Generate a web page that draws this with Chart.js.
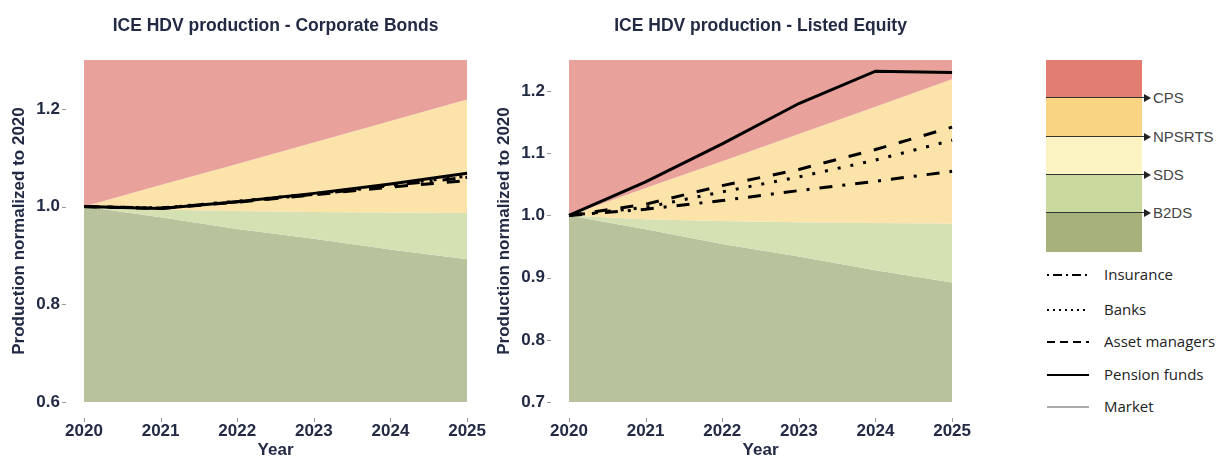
<!DOCTYPE html>
<html>
<head>
<meta charset="utf-8">
<script src="https://cdn.jsdelivr.net/npm/chart.js@4"></script>
<style>
  body { margin: 0; background: #fff; width: 1218px; height: 459px; overflow: hidden; position: relative; font-family: "Liberation Sans", Arial, sans-serif; }
  canvas { position: absolute; top: 0; }
  #cb { left: 0; }
  #le { left: 485px; }
  .band { position: absolute; left: 1046px; width: 96px; }
  .sline { position: absolute; left: 1046px; width: 100px; height: 0; border-top: 1.5px solid #333; }
  .arrow { position: absolute; left: 1144px; width: 0; height: 0; border-top: 4px solid transparent; border-bottom: 4px solid transparent; border-left: 7px solid #222; }
  .slab { position: absolute; left: 1153px; font-size: 15px; color: #444; line-height: 16px; }
  .llab { position: absolute; left: 1104px; font-family: "Open Sans", sans-serif; font-size: 15px; color: #222; line-height: 18px; }
  svg { position: absolute; left: 1044px; top: 260px; }
</style>
</head>
<body>
<canvas id="cb" width="505" height="459"></canvas>
<canvas id="le" width="505" height="459"></canvas>

<div class="band" style="top:60px;height:38px;background:#e27e71"></div>
<div class="band" style="top:98px;height:39px;background:#f9d583"></div>
<div class="band" style="top:137px;height:38px;background:#fbf4c2"></div>
<div class="band" style="top:175px;height:38px;background:#c9d89c"></div>
<div class="band" style="top:213px;height:39px;background:#a6b17c"></div>
<div class="sline" style="top:97px"></div><div class="arrow" style="top:94px"></div><div class="slab" style="top:90px">CPS</div>
<div class="sline" style="top:136px"></div><div class="arrow" style="top:133px"></div><div class="slab" style="top:129px">NPSRTS</div>
<div class="sline" style="top:174px"></div><div class="arrow" style="top:171px"></div><div class="slab" style="top:167px">SDS</div>
<div class="sline" style="top:212px"></div><div class="arrow" style="top:209px"></div><div class="slab" style="top:205px">B2DS</div>

<svg width="50" height="160">
  <line x1="3" y1="15" x2="45" y2="15" stroke="#000" stroke-width="2" stroke-dasharray="2,4,9,4"/>
  <line x1="3" y1="50" x2="45" y2="50" stroke="#000" stroke-width="2" stroke-dasharray="2,4"/>
  <line x1="3" y1="82" x2="45" y2="82" stroke="#000" stroke-width="2" stroke-dasharray="8,5"/>
  <line x1="3" y1="115" x2="45" y2="115" stroke="#000" stroke-width="2"/>
  <line x1="3" y1="147" x2="45" y2="147" stroke="#aaa" stroke-width="2"/>
</svg>
<div class="llab" style="top:265px">Insurance</div>
<div class="llab" style="top:300px">Banks</div>
<div class="llab" style="top:332px">Asset managers</div>
<div class="llab" style="top:365px">Pension funds</div>
<div class="llab" style="top:397px">Market</div>

<script>
const years = ['2020', '2021', '2022', '2023', '2024', '2025'];

// scenario boundaries
const cps  = [1.000, 1.044, 1.087, 1.131, 1.175, 1.219];
const sds  = [1.000, 0.994, 0.991, 0.989, 0.988, 0.987];
const b2ds = [1.000, 0.978, 0.954, 0.934, 0.912, 0.892];

// Corporate Bonds
const insuranceCB = [1.000, 0.997, 1.010, 1.025, 1.043, 1.060];
const banksCB     = [1.000, 0.997, 1.011, 1.026, 1.045, 1.062];
const assetCB     = [1.000, 0.996, 1.009, 1.024, 1.040, 1.053];
const pensionCB   = [1.000, 0.996, 1.010, 1.027, 1.046, 1.068];
const yTicksCB = [0.6, 0.8, 1.0, 1.2];

// Listed Equity
const insuranceLE = [1.000, 1.010, 1.024, 1.040, 1.055, 1.071];
const banksLE     = [1.000, 1.013, 1.038, 1.062, 1.089, 1.121];
const assetLE     = [1.000, 1.018, 1.048, 1.074, 1.106, 1.142];
const pensionLE   = [1.000, 1.054, 1.115, 1.180, 1.232, 1.230];
const yTicksLE = [0.7, 0.8, 0.9, 1.0, 1.1, 1.2];

const navy = '#222a44';

const tickMarks = {
  id: 'tickMarks',
  afterDraw(chart) {
    const { ctx, chartArea } = chart;
    const x = chart.scales.x, y = chart.scales.y;
    ctx.save();
    ctx.strokeStyle = '#999';
    ctx.lineWidth = 1;
    ctx.beginPath();
    y.ticks.forEach((t, i) => {
      const py = Math.round(y.getPixelForTick(i)) + 0.5;
      ctx.moveTo(chartArea.left - 22, py);
      ctx.lineTo(chartArea.left - 18, py);
    });
    x.ticks.forEach((t, i) => {
      const px = Math.round(x.getPixelForTick(i)) + 0.5;
      ctx.moveTo(px, chartArea.bottom + 16);
      ctx.lineTo(px, chartArea.bottom + 20);
    });
    ctx.stroke();
    ctx.restore();
  }
};

function band(data, fill, color) {
  return { data, fill, backgroundColor: color, borderWidth: 0, pointRadius: 0, order: 2 };
}
function series(label, data, dash) {
  return { label, data, fill: false, borderColor: '#000', borderWidth: 3, borderDash: dash, pointRadius: 0, tension: 0, order: 1 };
}

function makeChart(id, title, yMin, yMax, yTicks, ins, bnk, ast, pen) {
  new Chart(document.getElementById(id), {
    type: 'line',
    data: {
      labels: years,
      datasets: [
        band(cps, 'end', 'rgb(233,161,156)'),
        band(sds, 0, 'rgb(251,227,170)'),
        band(b2ds, 1, 'rgb(214,225,179)'),
        band(b2ds, 'start', 'rgb(184,195,158)'),
        series('Insurance', ins, [13, 10, 3, 10]),
        series('Banks', bnk, [3, 10]),
        series('Asset managers', ast, [13, 13]),
        series('Pension funds', pen, [])
      ]
    },
    options: {
      responsive: false,
      animation: false,
      layout: { padding: { left: 0, right: 8, top: 0, bottom: 0 } },
      plugins: {
        legend: { display: false },
        tooltip: { enabled: false },
        title: {
          display: true, text: title, fullSize: false, color: navy,
          font: { family: 'Liberation Sans', size: 17.5, weight: 'bold' },
          padding: { top: 16, bottom: 23 }
        }
      },
      scales: {
        x: {
          offset: false,
          grid: { display: false, drawTicks: false },
          border: { display: false },
          ticks: { color: navy, padding: 19, font: { family: 'Liberation Sans', size: 17, weight: 'bold' } },
          title: { display: true, text: 'Year', color: navy, padding: 0,
            font: { family: 'Liberation Sans', size: 17, weight: 'bold', lineHeight: 1 } },
          afterFit(scale) { scale.height = 57; }
        },
        y: {
          min: yMin, max: yMax,
          grid: { display: false, drawTicks: false },
          border: { display: false },
          afterBuildTicks(scale) { scale.ticks = yTicks.map(v => ({ value: v })); },
          ticks: { color: navy, padding: 24, callback: v => v.toFixed(1),
            font: { family: 'Liberation Sans', size: 17, weight: 'bold' } },
          title: { display: true, text: 'Production normalized to 2020', color: navy,
            padding: { top: 11, bottom: 0 },
            font: { family: 'Liberation Sans', size: 17, weight: 'bold', lineHeight: 1 } },
          afterFit(scale) { scale.width = 84; }
        }
      }
    },
    plugins: [tickMarks]
  });
}

makeChart('cb', 'ICE HDV production - Corporate Bonds', 0.6, 1.30, yTicksCB, insuranceCB, banksCB, assetCB, pensionCB);
makeChart('le', 'ICE HDV production - Listed Equity', 0.7, 1.25, yTicksLE, insuranceLE, banksLE, assetLE, pensionLE);
</script>
</body>
</html>
